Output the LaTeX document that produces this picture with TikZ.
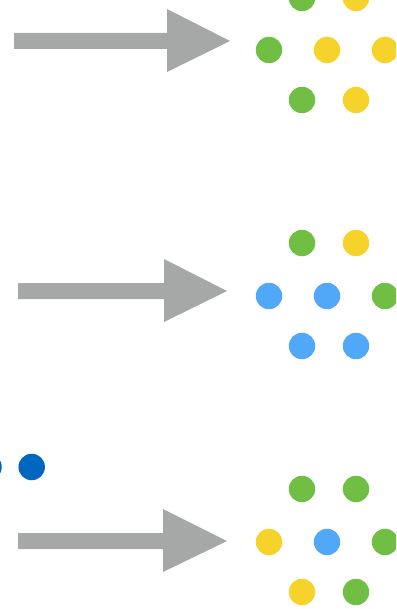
\documentclass[tikz,border=0pt]{standalone}
\definecolor{dotgreen}{HTML}{70BF44}
\definecolor{dotyellow}{HTML}{F6D32A}
\definecolor{dotblue}{HTML}{52A8F8}
\definecolor{dotdark}{HTML}{0066C0}
\definecolor{arrowgray}{HTML}{A5A8A6}
\tikzset{
  dot/.style={circle, minimum size=26.5pt, inner sep=0pt, draw=none, fill=#1},
  bigarrow/.style={fill=arrowgray, draw=none}
}
\begin{document}
\begin{tikzpicture}[x=1pt, y=-1pt]
\useasboundingbox (0,0) rectangle (396,609);
\clip (0,0) rectangle (396,609);

% arrows: shaft + triangular head
\fill[bigarrow] (14,33) -- (167,33) -- (167,9) -- (230,41) -- (167,72) -- (167,49) -- (14,49) -- cycle;
\fill[bigarrow] (18,283) -- (164,283) -- (164,259) -- (227,291) -- (164,322) -- (164,299) -- (18,299) -- cycle;
\fill[bigarrow] (18,533) -- (163,533) -- (163,509) -- (227,541) -- (163,572) -- (163,549) -- (18,549) -- cycle;

% first cluster
\node[dot=dotgreen]  (a1) at (302,-2) {};
\node[dot=dotyellow] (a2) at (356,-2) {};
\node[dot=dotgreen]  (a3) at (269,50) {};
\node[dot=dotyellow] (a4) at (327,50) {};
\node[dot=dotyellow] (a5) at (385,50) {};
\node[dot=dotgreen]  (a6) at (302,100) {};
\node[dot=dotyellow] (a7) at (356,100) {};

% second cluster
\node[dot=dotgreen]  (b1) at (302,243) {};
\node[dot=dotyellow] (b2) at (356,243) {};
\node[dot=dotblue]   (b3) at (269,296) {};
\node[dot=dotblue]   (b4) at (327,296) {};
\node[dot=dotgreen]  (b5) at (385,296) {};
\node[dot=dotblue]   (b6) at (302,346) {};
\node[dot=dotblue]   (b7) at (356,346) {};

% third cluster
\node[dot=dotgreen]  (c1) at (302,489) {};
\node[dot=dotgreen]  (c2) at (356,489) {};
\node[dot=dotyellow] (c3) at (269,542) {};
\node[dot=dotblue]   (c4) at (327,542) {};
\node[dot=dotgreen]  (c5) at (385,542) {};
\node[dot=dotyellow] (c6) at (302,592) {};
\node[dot=dotgreen]  (c7) at (356,592) {};

% dark dots on the left
\node[dot=dotdark] (d1) at (-11.5,467) {};
\node[dot=dotdark] (d2) at (31.7,467) {};
\end{tikzpicture}
\end{document}
